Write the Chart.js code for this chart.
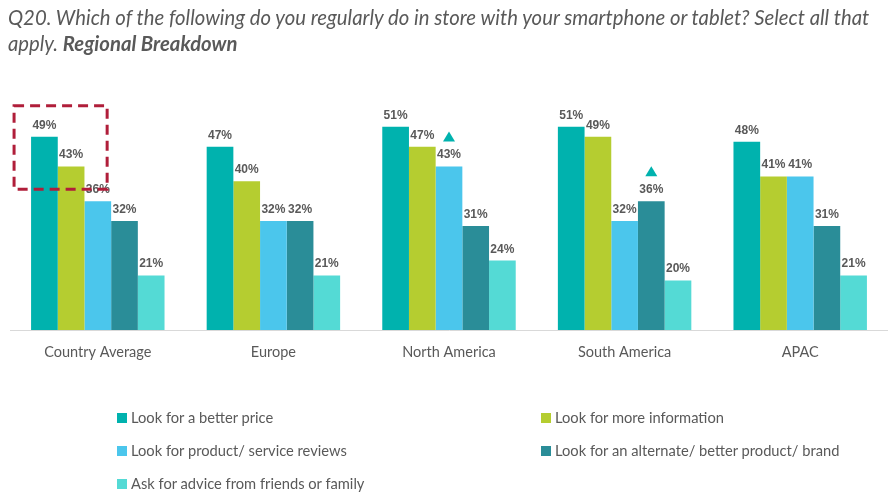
<!DOCTYPE html>
<html>
<head>
<meta charset="utf-8">
<script src="https://cdn.jsdelivr.net/npm/chart.js@4/dist/chart.umd.min.js"></script>
<style>
  html, body { margin: 0; padding: 0; background: #fff; }
  #wrap { position: relative; width: 888px; height: 502px; overflow: hidden; }
  #title { position: absolute; left: 8px; top: 4px; width: 880px; font-family: Lato, "Liberation Sans", sans-serif; font-style: italic; font-size: 20.3px; line-height: 26px; color: #595959; }
  #title b { font-weight: 700; }
  #chartBox { position: absolute; left: 0; top: 0; width: 888px; height: 502px; }
  #legend { position: absolute; left: 0; top: 0; width: 888px; height: 502px; pointer-events: none; font-family: Lato, "Liberation Sans", sans-serif; font-size: 14.7px; color: #595959; }
  .li { position: absolute; white-space: nowrap; line-height: 18px; }
  .sw { display: inline-block; width: 10px; height: 10px; margin-right: 4px; vertical-align: 0px; }
</style>
</head>
<body>
<div id="wrap">
  <div id="chartBox"><canvas id="c" width="888" height="502"></canvas></div>
  <div id="title">Q20. Which of the following do you regularly do in store with your smartphone or tablet? Select all that apply. <b>Regional Breakdown</b></div>
  <div id="legend"></div>
</div>
<script>
const categories = ["Country Average", "Europe", "North America", "South America", "APAC"];
const seriesNames = [
  "Look for a better price",
  "Look for more information",
  "Look for product/ service reviews",
  "Look for an alternate/ better product/ brand",
  "Ask for advice from friends or family"
];
const betterPrice   = [49, 47, 51, 51, 48];
const moreInfo      = [43, 40, 47, 49, 41];
const reviews       = [36, 32, 43, 32, 41];
const alternate     = [32, 32, 31, 36, 31];
const askAdvice     = [21, 21, 24, 20, 21];
const seriesColors  = ["#00B2AE", "#B5CD30", "#4BC6EC", "#2A8D98", "#54DAD5"];
// significance markers: [seriesIndex, categoryIndex]
const sigMarks = [[2, 2], [3, 3]];
const yMin = 10, yMax = 55;

const seriesValues = [betterPrice, moreInfo, reviews, alternate, askAdvice];

const datasets = seriesNames.map((name, i) => ({
  label: name,
  data: seriesValues[i],
  backgroundColor: seriesColors[i],
  borderWidth: 0,
  categoryPercentage: 0.76,
  barPercentage: 1.0
}));

const labelPlugin = {
  id: 'labels',
  afterDatasetsDraw(chart) {
    const ctx = chart.ctx;
    ctx.save();
    ctx.font = 'bold 12px "Liberation Sans", Arial, sans-serif';
    ctx.fillStyle = '#595959';
    ctx.textAlign = 'center';
    ctx.textBaseline = 'alphabetic';
    chart.data.datasets.forEach((ds, di) => {
      const meta = chart.getDatasetMeta(di);
      meta.data.forEach((bar, j) => {
        ctx.fillText(ds.data[j] + '%', bar.x, bar.y - 8);
      });
    });
    // significance triangles
    ctx.fillStyle = '#00B2AE';
    sigMarks.forEach(([si, ci]) => {
      const bar = chart.getDatasetMeta(si).data[ci];
      const b = bar.y - 25, t = bar.y - 35;
      ctx.beginPath();
      ctx.moveTo(bar.x - 6, b);
      ctx.lineTo(bar.x + 6, b);
      ctx.lineTo(bar.x, t);
      ctx.closePath();
      ctx.fill();
    });
    // dashed highlight box around Country Average top two bars
    const b0 = chart.getDatasetMeta(0).data[0];
    const b2 = chart.getDatasetMeta(2).data[0];
    const w = b0.width;
    const left = b0.x - w / 2 - 17;
    const right = b2.x + w / 2 - 4;
    const top = b0.y - 31;
    const bottom = b2.y - 12;
    ctx.strokeStyle = '#B01E3A';
    ctx.lineWidth = 3;
    ctx.setLineDash([10, 6]);
    ctx.strokeRect(left, top, right - left, bottom - top);
    ctx.restore();
  }
};

new Chart(document.getElementById('c'), {
  type: 'bar',
  data: { labels: categories, datasets },
  options: {
    responsive: false,
    animation: false,
    layout: { padding: { left: 10, right: 0, top: 107, bottom: 132 } },
    plugins: { legend: { display: false }, tooltip: { enabled: false } },
    scales: {
      x: {
        grid: { display: false, drawTicks: false },
        border: { display: true, color: '#D9D9D9', width: 1 },
        ticks: { color: '#595959', font: { family: 'Lato, "Liberation Sans", sans-serif', size: 14.5 }, padding: 14 },
        afterFit(s) { s.height = 40; }
      },
      y: { display: false, min: yMin, max: yMax }
    }
  },
  plugins: [labelPlugin]
});

// HTML legend built from series arrays (two columns)
const legend = document.getElementById('legend');
const colX = [117, 541];
const rowY = [408, 441, 474];
seriesNames.forEach((name, i) => {
  const d = document.createElement('div');
  d.className = 'li';
  d.style.left = colX[i % 2] + 'px';
  d.style.top = rowY[Math.floor(i / 2)] + 'px';
  d.innerHTML = '<span class="sw" style="background:' + seriesColors[i] + '"></span>' + name;
  legend.appendChild(d);
});
</script>
</body>
</html>
